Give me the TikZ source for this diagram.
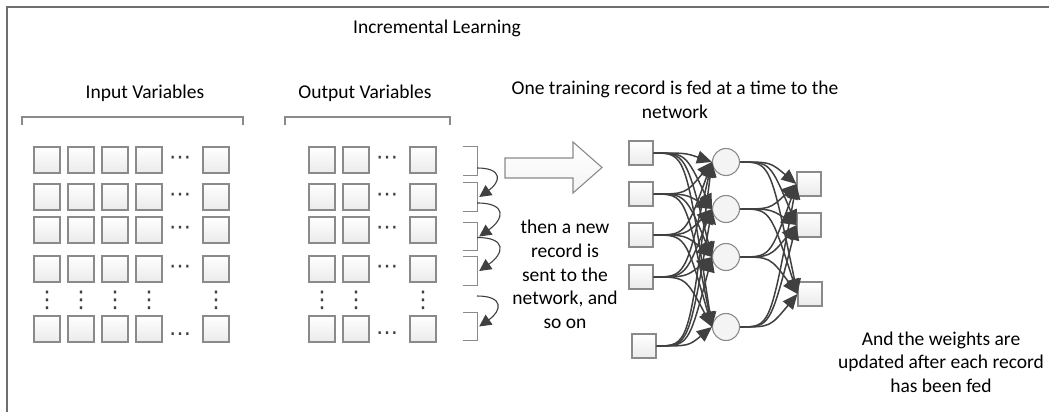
\documentclass[tikz,border=0pt]{standalone}
\usepackage{fontspec}
\setmainfont{Carlito}
\newfontfamily\dotfont{DejaVu Sans}
\usepackage{tikz}
\usetikzlibrary{arrows.meta,positioning,shadows}
\definecolor{boxline}{HTML}{8A8A8A}
\definecolor{boxfill}{HTML}{F4F4F4}
\definecolor{wirecol}{HTML}{404040}
\definecolor{framecol}{HTML}{6E6E6E}

\begin{document}
\begin{tikzpicture}[
  x=1pt,y=-1pt,
  font=\fontsize{19.5}{23.7}\selectfont,
  >={Triangle[length=15pt,width=13pt]},
  cell/.style={draw=boxline,top color=white,bottom color=boxfill!80!gray!60,line width=1.1pt,minimum size=26pt,inner sep=0pt,
    drop shadow={shadow xshift=1.2pt,shadow yshift=-1.2pt,fill=black,opacity=.15}},
  ncell/.style={cell,minimum size=24pt},
  hid/.style={circle,draw=boxline,fill=boxfill,line width=1.1pt,minimum size=27pt,inner sep=0pt},
  hdot/.style={inner sep=0pt,text=wirecol,font=\dotfont\fontsize{22}{22}\selectfont},
  vdot/.style={inner sep=0pt,text=wirecol,font=\dotfont\fontsize{23}{23}\selectfont},
  brk/.style={minimum width=14pt,minimum height=28pt,inner sep=0pt},
  brline/.style={draw=boxline,line width=1.1pt},
  wire/.style={draw=wirecol,line width=1.5pt,->},
  back/.style={draw=wirecol,line width=1.1pt,-{Triangle[length=12pt,width=12pt]},looseness=2.3},
  txt/.style={align=center,inner sep=0pt},
]
\useasboundingbox (0,0) rectangle (1049,412);
\draw[framecol,line width=1.6pt] (7,412) -- (7,7) -- (1049,7);

\node[txt] (title) at (437,28) {Incremental Learning};
\node[txt] (inlab) at (145,93) {Input Variables};
\node[txt] (outlab) at (365,93) {Output Variables};
\draw[brline] (22,125) -- (22,117) -- (243,117) -- (243,125);
\draw[brline] (285,125) -- (285,117) -- (450,117) -- (450,125);

% input and output records
\foreach \r/\y in {1/160,2/197,3/230,4/269,5/329} {
  \foreach \c/\x in {1/47,2/81,3/115,4/149,5/216}
    {\node[cell] (iv\r\c) at (\x,\y) {};}
  \foreach \c/\x in {1/322,2/356,3/423}
    {\node[cell] (ov\r\c) at (\x,\y) {};}
}
\foreach \y in {160,197,230,269} {
  \node[hdot] at (180,\y) {⋯};
  \node[hdot] at (387,\y) {⋯};
}
\node[hdot] at (180,334) {…};
\node[hdot] at (387,333) {…};
\foreach \x in {47,81,115,149,216,322,356,423} {\node[vdot] at (\x,300) {⋮};}

% one record at a time
\foreach \i/\y in {1/161,2/197,3/236.5,4/271,5/326.5} {
  \node[brk] (br\i) at (470,\y) {};
  \draw[brline] (br\i.north west) -- (br\i.north east) -- (br\i.south east) -- (br\i.south west);
}
\coordinate (r5) at (477,296);
\draw[back] ([yshift=-7pt]br1.east) to[out=0,in=35] ([xshift=2pt]br2.east);
\draw[back] ([yshift=-6pt]br2.east) to[out=0,in=35] ([xshift=2pt]br3.east);
\draw[back] ([yshift=-1pt]br3.east) to[out=0,in=35] ([xshift=2pt]br4.east);
\draw[back] (r5) to[out=0,in=35] ([xshift=2pt]br5.east);

\draw[draw=boxline,top color=white,bottom color=boxfill,line width=1.1pt]
  (505,158) -- (573,158) -- (573,142) -- (602,167.5) -- (573,193) -- (573,178) -- (505,178) -- cycle;

\node[txt] (feed) at (675,100) {One training record is fed at a time to the\\network};
\node[txt] (next) at (565,274.5) {then a new\\record is\\sent to the\\network, and\\so on};
\node[txt] (upd) at (941,362) {And the weights are\\updated after each record\\has been fed};

% network
\node[ncell] (nin1) at (641,153) {};
\node[ncell] (nin2) at (641,194) {};
\node[ncell] (nin3) at (641,235) {};
\node[ncell] (nin4) at (641,277) {};
\node[ncell] (nin5) at (644,346) {};
\node[hid] (hid1) at (726,162) {};
\node[hid] (hid2) at (726,209) {};
\node[hid] (hid3) at (726,257) {};
\node[hid] (hid4) at (726,327) {};
\node[ncell] (nout1) at (809,184) {};
\node[ncell] (nout2) at (809,225) {};
\node[ncell] (nout3) at (810,294) {};
\foreach \i in {1,...,5}
  \foreach \h in {1,...,4}
    {\draw[wire] (nin\i.east) .. controls +(32,0) .. (hid\h.west);}
\foreach \h in {1,...,4}
  \foreach \o in {1,2,3}
    {\draw[wire] (hid\h.east) .. controls +(30,0) .. (nout\o.west);}
\end{tikzpicture}
\end{document}
